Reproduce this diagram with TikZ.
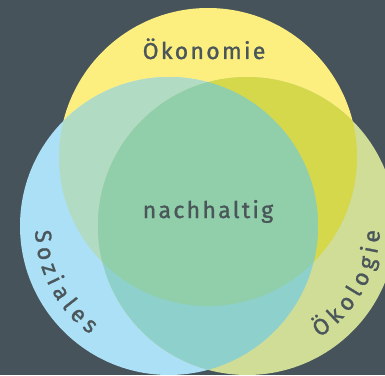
\documentclass[tikz,border=0pt]{standalone}
\usepackage{fontspec}
\setmainfont{Fira Sans}
\newfontfamily\lblfam[LetterSpace=10,FakeBold=1.2]{Fira Sans}
\newcommand\lblfont{\lblfam\fontsize{23pt}{27pt}\selectfont}
\usetikzlibrary{decorations.text}
\definecolor{bgc}{HTML}{46535B}
\definecolor{yel}{HTML}{FDEF7F}
\definecolor{blu}{HTML}{ACE0F6}
\definecolor{grn}{HTML}{D0DD97}
\definecolor{yg}{HTML}{D5D84A}
\definecolor{yb}{HTML}{B1DBC3}
\definecolor{bg2}{HTML}{8ED1CC}
\definecolor{allc}{HTML}{90CFA9}
\definecolor{txt}{HTML}{4A565A}
\tikzset{lbl/.style={font=\lblfont, text=txt, inner sep=0pt}}
\begin{document}
\begin{tikzpicture}[x=1pt,y=1pt]
\useasboundingbox (0,0) rectangle (385,375);
\fill[bgc] (0,0) rectangle (385,375);
\coordinate (Y) at (208,218);
\coordinate (B) at (169,149);
\coordinate (G) at (247,149);
\fill[yel] (Y) circle (149pt);
\fill[blu] (B) circle (149pt);
\fill[grn] (G) circle (149pt);
\begin{scope}\clip (Y) circle (149pt); \fill[yb] (B) circle (149pt);\end{scope}
\begin{scope}\clip (Y) circle (149pt); \fill[yg] (G) circle (149pt);\end{scope}
\begin{scope}\clip (B) circle (149pt); \fill[bg2] (G) circle (149pt);\end{scope}
\begin{scope}\clip (Y) circle (149pt); \clip (B) circle (149pt); \fill[allc] (G) circle (149pt);\end{scope}
\node[lbl, anchor=base] (oek) at (204,316) {Ökonomie};
\node[lbl, anchor=base] (nach) at (208,157) {nachhaltig};
\path[decorate, decoration={text along path, text={|\lblfont\color{txt}|Soziales}, text align=fit to path}]
  ([shift={(182:134pt)}]B) arc[start angle=182, end angle=234, radius=134pt];
\path[decorate, decoration={text along path, text={|\lblfont\color{txt}|Ökologie}, text align=fit to path}]
  ([shift={(-57:133pt)}]G) arc[start angle=-57, end angle=-2, radius=133pt];
\end{tikzpicture}
\end{document}
